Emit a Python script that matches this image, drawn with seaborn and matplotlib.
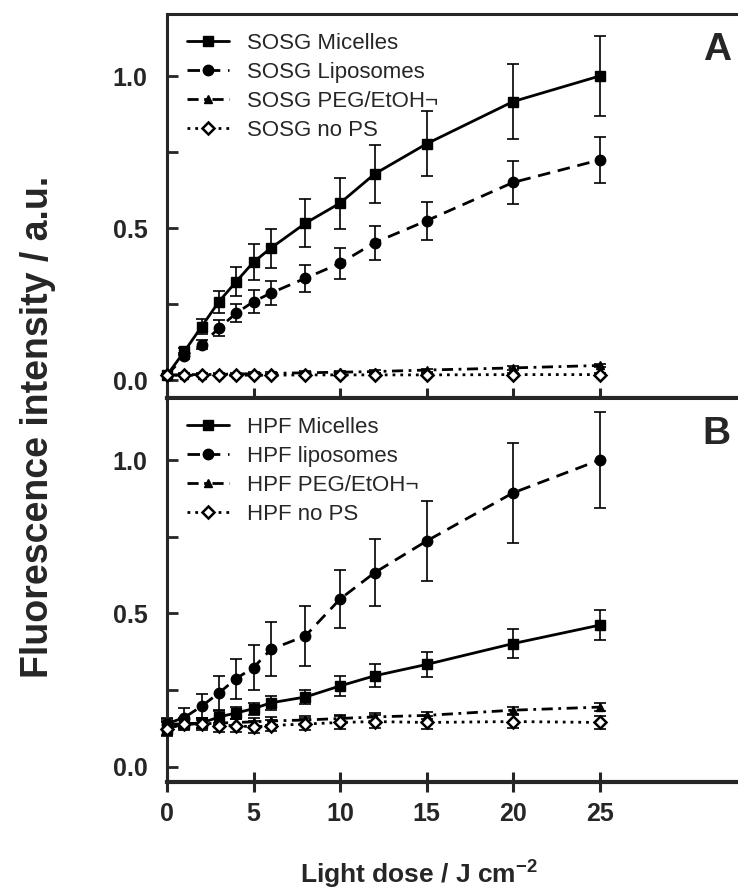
import matplotlib
matplotlib.use('Agg')
import matplotlib.pyplot as plt
from matplotlib.ticker import MultipleLocator
import seaborn as sns

# light dose (J cm-2)
dose = [0, 1, 2, 3, 4, 5, 6, 8, 10, 12, 15, 20, 25]

# Panel A - SOSG
sosg_micelles = [0.016, 0.094, 0.176, 0.258, 0.324, 0.388, 0.434, 0.516, 0.582, 0.678, 0.777, 0.916, 1.0]
sosg_micelles_err = [0.0, 0.01, 0.025, 0.036, 0.048, 0.059, 0.064, 0.079, 0.084, 0.096, 0.107, 0.122, 0.133]
sosg_liposomes = [0.016, 0.078, 0.116, 0.171, 0.22, 0.258, 0.286, 0.335, 0.384, 0.452, 0.524, 0.65, 0.724]
sosg_liposomes_err = [0.0, 0.01, 0.015, 0.025, 0.03, 0.037, 0.04, 0.045, 0.051, 0.056, 0.063, 0.071, 0.075]
sosg_peg = [0.016, 0.018, 0.018, 0.019, 0.02, 0.021, 0.022, 0.024, 0.026, 0.028, 0.033, 0.04, 0.048]
sosg_peg_err = [0.004, 0.004, 0.004, 0.004, 0.004, 0.004, 0.004, 0.005, 0.005, 0.005, 0.005, 0.006, 0.006]
sosg_nops = [0.016, 0.016, 0.016, 0.016, 0.016, 0.016, 0.016, 0.017, 0.017, 0.017, 0.017, 0.018, 0.018]
sosg_nops_err = [0.004, 0.004, 0.004, 0.004, 0.004, 0.004, 0.004, 0.005, 0.005, 0.005, 0.005, 0.005, 0.005]

# Panel B - HPF
hpf_micelles = [0.125, 0.141, 0.143, 0.163, 0.176, 0.19, 0.209, 0.228, 0.264, 0.297, 0.334, 0.402, 0.462]
hpf_micelles_err = [0.025, 0.015, 0.015, 0.02, 0.02, 0.02, 0.022, 0.024, 0.033, 0.037, 0.041, 0.046, 0.049]
hpf_liposomes = [0.141, 0.161, 0.198, 0.241, 0.288, 0.324, 0.383, 0.427, 0.547, 0.633, 0.736, 0.893, 1.0]
hpf_liposomes_err = [0.02, 0.03, 0.04, 0.055, 0.065, 0.073, 0.088, 0.098, 0.094, 0.109, 0.129, 0.164, 0.155]
hpf_peg = [0.14, 0.14, 0.14, 0.143, 0.145, 0.147, 0.15, 0.153, 0.158, 0.163, 0.168, 0.185, 0.195]
hpf_peg_err = [0.015, 0.012, 0.012, 0.012, 0.012, 0.012, 0.012, 0.012, 0.012, 0.012, 0.012, 0.012, 0.012]
hpf_nops = [0.125, 0.14, 0.14, 0.135, 0.135, 0.13, 0.135, 0.14, 0.145, 0.148, 0.145, 0.148, 0.145]
hpf_nops_err = [0.02, 0.02, 0.02, 0.02, 0.02, 0.02, 0.018, 0.018, 0.02, 0.02, 0.02, 0.02, 0.02]

labels_a = ['SOSG Micelles', 'SOSG Liposomes', 'SOSG PEG/EtOH\u00ac', 'SOSG no PS']
labels_b = ['HPF Micelles', 'HPF liposomes', 'HPF PEG/EtOH\u00ac', 'HPF no PS']

sns.set_style('ticks')
plt.rcParams['font.family'] = ['Liberation Sans', 'DejaVu Sans']
plt.rcParams['font.weight'] = 'bold'
plt.rcParams['mathtext.fontset'] = 'custom'
plt.rcParams['mathtext.rm'] = 'Liberation Sans'
plt.rcParams['mathtext.bf'] = 'Liberation Sans:bold'

# marker / line style for the four series (same in both panels)
styles = [
    dict(marker='s', linestyle='-', markersize=7.5, markerfacecolor='black', markeredgewidth=1),
    dict(marker='o', linestyle=(0, (4.5, 2.8)), markersize=7.5, markerfacecolor='black', markeredgewidth=1),
    dict(marker='^', linestyle=(0, (4, 2, 1, 2)), markersize=6, markerfacecolor='black', markeredgewidth=1),
    dict(marker='D', linestyle=(0, (1, 1.8)), markersize=6, markerfacecolor='white', markeredgewidth=1.8),
]


def draw_panel(ax, series, errs, labels, letter, ylim):
    handles = []
    for vals, err, lab, st in zip(series, errs, labels, styles):
        ax.errorbar(dose, vals, yerr=err, fmt='none', ecolor='black', elinewidth=1.2,
                    capsize=4, capthick=1.2, zorder=2, clip_on=False)
        sns.lineplot(x=dose, y=vals, ax=ax, color='black', linewidth=2,
                     markeredgecolor='black', errorbar=None, clip_on=False,
                     zorder=3, **st)
        handles.append(ax.lines[-1])
    ax.legend(handles, labels, loc='upper left', bbox_to_anchor=(0.035, 0.95),
              borderaxespad=0, borderpad=0, frameon=False,
              prop={'size': 16, 'weight': 'normal'}, handlelength=1.9,
              handletextpad=0.8, labelspacing=0.36)
    ax.set_xlim(0, 33)
    ax.set_ylim(*ylim)
    ax.set_xticks([0, 5, 10, 15, 20, 25])
    ax.yaxis.set_major_locator(MultipleLocator(0.5))
    ax.yaxis.set_minor_locator(MultipleLocator(0.25))
    ax.tick_params(axis='y', which='both', direction='in', length=8, width=2,
                   labelsize=18, pad=14)
    ax.tick_params(axis='x', direction='inout', length=15, width=2.2, pad=7, labelsize=18)
    ax.spines['right'].set_visible(False)
    for side in ['left', 'top']:
        ax.spines[side].set_linewidth(2.2)
    ax.spines['bottom'].set_linewidth(3)
    ax.set_xlabel('')
    ax.set_ylabel('')
    ax.text(0.963, 0.905, letter, transform=ax.transAxes, fontsize=28,
            fontweight='bold', ha='center', va='center')


fig = plt.figure(figsize=(7.38, 8.92), dpi=100)
ax_a = fig.add_axes([0.2263, 0.5538, 0.7737, 0.4305])
ax_b = fig.add_axes([0.2263, 0.1233, 0.7737, 0.4305])

draw_panel(ax_a,
           [sosg_micelles, sosg_liposomes, sosg_peg, sosg_nops],
           [sosg_micelles_err, sosg_liposomes_err, sosg_peg_err, sosg_nops_err],
           labels_a, 'A', (-0.059, 1.204))
ax_a.tick_params(axis='x', labelbottom=False)

draw_panel(ax_b,
           [hpf_micelles, hpf_liposomes, hpf_peg, hpf_nops],
           [hpf_micelles_err, hpf_liposomes_err, hpf_peg_err, hpf_nops_err],
           labels_b, 'B', (-0.049, 1.202))

fig.text(0.052, 0.521, 'Fluorescence intensity / a.u.', rotation=90, fontsize=27,
         fontweight='bold', ha='center', va='center')
fig.text(0.568, 0.0101, r'Light dose / J cm$^{\mathbf{-2}}$', fontsize=19,
         fontweight='bold', ha='center', va='baseline')

fig.savefig('out.png', dpi=100)
